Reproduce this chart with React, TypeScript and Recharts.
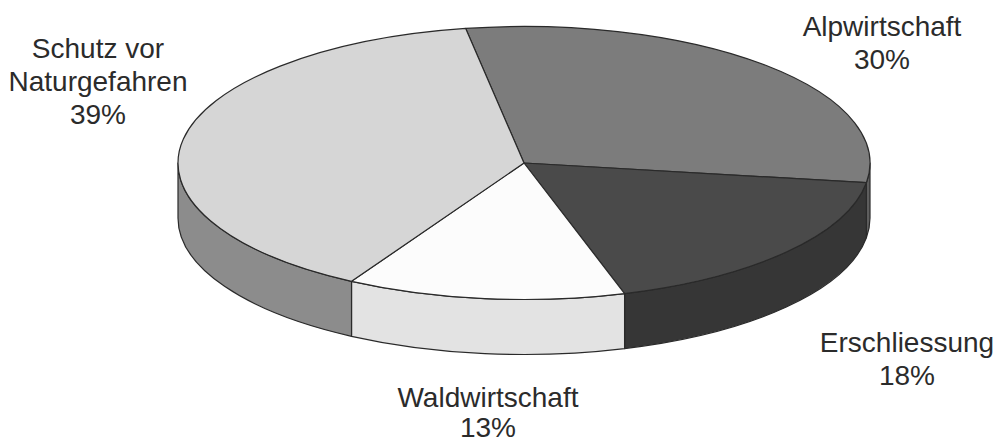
import { PieChart, Pie } from 'recharts';

const CATEGORIES = ['Alpwirtschaft', 'Erschliessung', 'Waldwirtschaft', 'Schutz vor Naturgefahren'];
const SHARES = [30, 18, 13, 39];
const LABEL_LINES = [['Alpwirtschaft'], ['Erschliessung'], ['Waldwirtschaft'], ['Schutz vor', 'Naturgefahren']];

const TOP_COLORS = ['#7c7c7c', '#4a4a4a', '#fcfcfc', '#d6d6d6'];
const SIDE_COLORS = ['#5e5e5e', '#363636', '#e3e3e3', '#8c8c8c'];

// label anchor: centre x, first baseline y, line step
const LABEL_POS = [
  [882, 36, 33],
  [907, 352, 33],
  [488, 407, 30],
  [98, 58, 33],
];

const SQUASH = 0.3945;
const DEPTH = 55;
const STROKE = '#2a2a2a';

const data = CATEGORIES.map((name, i) => ({ name, value: SHARES[i], idx: i }));

const pt = (cx: number, cy: number, rx: number, ry: number, deg: number) => {
  const a = (deg * Math.PI) / 180;
  return [cx + rx * Math.cos(a), cy - ry * Math.sin(a)];
};

// front part of the rim (sin < 0) lies between -180 and 0 (mod 360)
const frontRange = (a1: number, a2: number): [number, number] | null => {
  const hi = Math.max(a1, a2);
  const lo = Math.min(a1, a2);
  for (const k of [-360, 0, 360]) {
    const s = Math.min(hi, k);
    const e = Math.max(lo, k - 180);
    if (s - e > 0.01) return [s, e];
  }
  return null;
};

const Slice3D = (props: any) => {
  const { cx, cy, outerRadius, startAngle, endAngle, payload } = props;
  const idx = payload?.idx ?? props.idx ?? 0;
  const rx = outerRadius;
  const ry = outerRadius * SQUASH;
  const [sx, sy] = pt(cx, cy, rx, ry, startAngle);
  const [ex, ey] = pt(cx, cy, rx, ry, endAngle);
  const large = Math.abs(startAngle - endAngle) > 180 ? 1 : 0;
  const top = `M${cx},${cy} L${sx},${sy} A${rx},${ry} 0 ${large} 1 ${ex},${ey} Z`;

  let wall: string | null = null;
  const fr = frontRange(startAngle, endAngle);
  if (fr) {
    const [a1, a2] = fr;
    const [x1, y1] = pt(cx, cy, rx, ry, a1);
    const [x2, y2] = pt(cx, cy, rx, ry, a2);
    wall = `M${x1},${y1} A${rx},${ry} 0 0 1 ${x2},${y2} L${x2},${y2 + DEPTH} A${rx},${ry} 0 0 0 ${x1},${y1 + DEPTH} Z`;
  }

  return (
    <g>
      {wall && <path d={wall} fill={SIDE_COLORS[idx]} stroke={STROKE} strokeWidth={1.2} strokeLinejoin="round" />}
      <path d={top} fill={TOP_COLORS[idx]} stroke={STROKE} strokeWidth={1.2} strokeLinejoin="round" />
    </g>
  );
};

const renderLabel = (props: any) => {
  const idx = props.payload?.idx ?? props.idx ?? props.index ?? 0;
  const [x, y, step] = LABEL_POS[idx];
  const lines = [...LABEL_LINES[idx], `${SHARES[idx]}%`];
  return (
    <text
      x={x}
      y={y}
      textAnchor="middle"
      fill="#2b2b2b"
      fontSize={28}
      fontFamily="'Liberation Sans', Arial, sans-serif"
    >
      {lines.map((l, i) => (
        <tspan key={i} x={x} y={y + i * step}>
          {l}
        </tspan>
      ))}
    </text>
  );
};

export default function App() {
  return (
    <div style={{ position: 'absolute', left: 0, top: 0, width: 997, height: 444, background: '#fff' }}>
      <PieChart width={997} height={444} margin={{ top: 0, right: 0, bottom: 0, left: 0 }}>
        <Pie
          data={data}
          dataKey="value"
          nameKey="name"
          cx={524}
          cy={163}
          innerRadius={0}
          outerRadius={346}
          startAngle={99.7}
          endAngle={-260.3}
          stroke="none"
          shape={Slice3D}
          activeShape={Slice3D}
          inactiveShape={Slice3D}
          label={renderLabel}
          labelLine={false}
          isAnimationActive={false}
        />
      </PieChart>
    </div>
  );
}
